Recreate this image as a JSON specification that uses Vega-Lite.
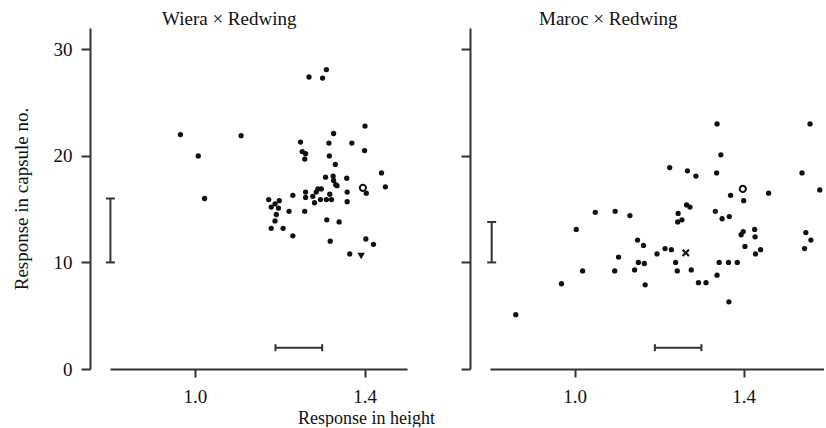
{
  "$schema": "https://vega.github.io/schema/vega-lite/v6.json",
  "background": "white",
  "padding": {"left": 12, "top": 10, "right": 0, "bottom": 0},
  "config": {
    "font": "Liberation Serif",
    "view": {"stroke": null},
    "axis": {
      "grid": false,
      "domainColor": "#333",
      "domainWidth": 2,
      "tickColor": "#333",
      "tickWidth": 2,
      "labelFontSize": 19,
      "titleFontSize": 19,
      "labelColor": "#111",
      "titleColor": "#111",
      "titleFontWeight": "normal",
      "labelFont": "Liberation Serif",
      "titleFont": "Liberation Serif"
    },
    "title": {"fontSize": 19, "fontWeight": "normal", "color": "#111", "font": "Liberation Serif"}
  },
  "datasets": {
    "all": [
      {"p": "W", "k": "dot", "x": 0.966, "y": 22.0},
      {"p": "W", "k": "dot", "x": 1.109, "y": 21.9},
      {"p": "W", "k": "dot", "x": 1.008, "y": 20.0},
      {"p": "W", "k": "dot", "x": 1.023, "y": 16.0},
      {"p": "W", "k": "dot", "x": 1.174, "y": 15.9},
      {"p": "W", "k": "dot", "x": 1.199, "y": 15.8},
      {"p": "W", "k": "dot", "x": 1.189, "y": 15.5},
      {"p": "W", "k": "dot", "x": 1.180, "y": 15.2},
      {"p": "W", "k": "dot", "x": 1.197, "y": 15.1},
      {"p": "W", "k": "dot", "x": 1.192, "y": 14.5},
      {"p": "W", "k": "dot", "x": 1.189, "y": 13.9},
      {"p": "W", "k": "dot", "x": 1.180, "y": 13.2},
      {"p": "W", "k": "dot", "x": 1.208, "y": 13.2},
      {"p": "W", "k": "dot", "x": 1.222, "y": 14.8},
      {"p": "W", "k": "dot", "x": 1.310, "y": 28.1},
      {"p": "W", "k": "dot", "x": 1.269, "y": 27.4},
      {"p": "W", "k": "dot", "x": 1.301, "y": 27.3},
      {"p": "W", "k": "dot", "x": 1.401, "y": 22.8},
      {"p": "W", "k": "dot", "x": 1.327, "y": 22.1},
      {"p": "W", "k": "dot", "x": 1.249, "y": 21.3},
      {"p": "W", "k": "dot", "x": 1.316, "y": 21.2},
      {"p": "W", "k": "dot", "x": 1.370, "y": 21.2},
      {"p": "W", "k": "dot", "x": 1.400, "y": 20.5},
      {"p": "W", "k": "dot", "x": 1.253, "y": 20.4},
      {"p": "W", "k": "dot", "x": 1.261, "y": 20.2},
      {"p": "W", "k": "dot", "x": 1.259, "y": 19.7},
      {"p": "W", "k": "dot", "x": 1.317, "y": 20.0},
      {"p": "W", "k": "dot", "x": 1.331, "y": 19.2},
      {"p": "W", "k": "dot", "x": 1.440, "y": 18.4},
      {"p": "W", "k": "dot", "x": 1.308, "y": 18.0},
      {"p": "W", "k": "dot", "x": 1.326, "y": 18.1},
      {"p": "W", "k": "dot", "x": 1.327, "y": 17.7},
      {"p": "W", "k": "dot", "x": 1.332, "y": 17.3},
      {"p": "W", "k": "dot", "x": 1.335, "y": 17.2},
      {"p": "W", "k": "dot", "x": 1.358, "y": 17.9},
      {"p": "W", "k": "dot", "x": 1.449, "y": 17.1},
      {"p": "W", "k": "dot", "x": 1.404, "y": 16.5},
      {"p": "W", "k": "dot", "x": 1.290, "y": 16.9},
      {"p": "W", "k": "dot", "x": 1.298, "y": 16.9},
      {"p": "W", "k": "dot", "x": 1.286, "y": 16.6},
      {"p": "W", "k": "dot", "x": 1.261, "y": 16.6},
      {"p": "W", "k": "dot", "x": 1.231, "y": 16.3},
      {"p": "W", "k": "dot", "x": 1.261, "y": 16.1},
      {"p": "W", "k": "dot", "x": 1.278, "y": 16.2},
      {"p": "W", "k": "dot", "x": 1.296, "y": 15.9},
      {"p": "W", "k": "dot", "x": 1.310, "y": 15.9},
      {"p": "W", "k": "dot", "x": 1.322, "y": 15.9},
      {"p": "W", "k": "dot", "x": 1.318, "y": 16.4},
      {"p": "W", "k": "dot", "x": 1.282, "y": 15.6},
      {"p": "W", "k": "dot", "x": 1.359, "y": 16.6},
      {"p": "W", "k": "dot", "x": 1.359, "y": 15.7},
      {"p": "W", "k": "dot", "x": 1.259, "y": 14.8},
      {"p": "W", "k": "dot", "x": 1.311, "y": 14.0},
      {"p": "W", "k": "dot", "x": 1.340, "y": 13.8},
      {"p": "W", "k": "dot", "x": 1.231, "y": 12.5},
      {"p": "W", "k": "dot", "x": 1.319, "y": 12.0},
      {"p": "W", "k": "dot", "x": 1.403, "y": 12.2},
      {"p": "W", "k": "dot", "x": 1.421, "y": 11.7},
      {"p": "W", "k": "dot", "x": 1.365, "y": 10.8},
      {"p": "W", "k": "o", "x": 1.396, "y": 17.0},
      {"p": "W", "k": "v", "x": 1.392, "y": 10.6},
      {"p": "W", "k": "vbar", "x": 0.801, "y": 10, "y2": 16},
      {"p": "W", "k": "vcap", "x": 0.801, "y": 10},
      {"p": "W", "k": "vcap", "x": 0.801, "y": 16},
      {"p": "W", "k": "hbar", "x": 1.19, "x2": 1.30, "y": 2},
      {"p": "W", "k": "hcap", "x": 1.19, "y": 2},
      {"p": "W", "k": "hcap", "x": 1.30, "y": 2},

      {"p": "M", "k": "dot", "x": 0.861, "y": 5.1},
      {"p": "M", "k": "dot", "x": 0.969, "y": 8.0},
      {"p": "M", "k": "dot", "x": 1.019, "y": 9.2},
      {"p": "M", "k": "dot", "x": 1.004, "y": 13.1},
      {"p": "M", "k": "dot", "x": 1.049, "y": 14.7},
      {"p": "M", "k": "dot", "x": 1.096, "y": 14.8},
      {"p": "M", "k": "dot", "x": 1.131, "y": 14.4},
      {"p": "M", "k": "dot", "x": 1.104, "y": 10.5},
      {"p": "M", "k": "dot", "x": 1.095, "y": 9.2},
      {"p": "M", "k": "dot", "x": 1.149, "y": 12.1},
      {"p": "M", "k": "dot", "x": 1.163, "y": 11.6},
      {"p": "M", "k": "dot", "x": 1.151, "y": 10.0},
      {"p": "M", "k": "dot", "x": 1.165, "y": 9.9},
      {"p": "M", "k": "dot", "x": 1.142, "y": 9.3},
      {"p": "M", "k": "dot", "x": 1.167, "y": 7.9},
      {"p": "M", "k": "dot", "x": 1.195, "y": 10.8},
      {"p": "M", "k": "dot", "x": 1.337, "y": 23.0},
      {"p": "M", "k": "dot", "x": 1.557, "y": 23.0},
      {"p": "M", "k": "dot", "x": 1.346, "y": 20.1},
      {"p": "M", "k": "dot", "x": 1.225, "y": 18.9},
      {"p": "M", "k": "dot", "x": 1.267, "y": 18.6},
      {"p": "M", "k": "dot", "x": 1.287, "y": 18.1},
      {"p": "M", "k": "dot", "x": 1.336, "y": 18.4},
      {"p": "M", "k": "dot", "x": 1.538, "y": 18.4},
      {"p": "M", "k": "dot", "x": 1.580, "y": 16.8},
      {"p": "M", "k": "dot", "x": 1.459, "y": 16.5},
      {"p": "M", "k": "dot", "x": 1.369, "y": 16.3},
      {"p": "M", "k": "dot", "x": 1.400, "y": 15.8},
      {"p": "M", "k": "dot", "x": 1.265, "y": 15.4},
      {"p": "M", "k": "dot", "x": 1.273, "y": 15.2},
      {"p": "M", "k": "dot", "x": 1.245, "y": 14.6},
      {"p": "M", "k": "dot", "x": 1.244, "y": 13.8},
      {"p": "M", "k": "dot", "x": 1.254, "y": 14.0},
      {"p": "M", "k": "dot", "x": 1.333, "y": 14.8},
      {"p": "M", "k": "dot", "x": 1.349, "y": 14.1},
      {"p": "M", "k": "dot", "x": 1.366, "y": 14.3},
      {"p": "M", "k": "dot", "x": 1.426, "y": 13.1},
      {"p": "M", "k": "dot", "x": 1.427, "y": 12.4},
      {"p": "M", "k": "dot", "x": 1.394, "y": 12.6},
      {"p": "M", "k": "dot", "x": 1.399, "y": 12.9},
      {"p": "M", "k": "dot", "x": 1.403, "y": 11.5},
      {"p": "M", "k": "dot", "x": 1.440, "y": 11.2},
      {"p": "M", "k": "dot", "x": 1.428, "y": 10.8},
      {"p": "M", "k": "dot", "x": 1.547, "y": 12.8},
      {"p": "M", "k": "dot", "x": 1.559, "y": 12.1},
      {"p": "M", "k": "dot", "x": 1.544, "y": 11.3},
      {"p": "M", "k": "dot", "x": 1.214, "y": 11.3},
      {"p": "M", "k": "dot", "x": 1.229, "y": 11.2},
      {"p": "M", "k": "dot", "x": 1.239, "y": 10.0},
      {"p": "M", "k": "dot", "x": 1.243, "y": 9.2},
      {"p": "M", "k": "dot", "x": 1.276, "y": 9.3},
      {"p": "M", "k": "dot", "x": 1.293, "y": 8.1},
      {"p": "M", "k": "dot", "x": 1.311, "y": 8.1},
      {"p": "M", "k": "dot", "x": 1.337, "y": 8.8},
      {"p": "M", "k": "dot", "x": 1.342, "y": 10.0},
      {"p": "M", "k": "dot", "x": 1.364, "y": 10.0},
      {"p": "M", "k": "dot", "x": 1.385, "y": 10.0},
      {"p": "M", "k": "dot", "x": 1.365, "y": 6.3},
      {"p": "M", "k": "o", "x": 1.398, "y": 16.9},
      {"p": "M", "k": "x", "x": 1.263, "y": 10.9},
      {"p": "M", "k": "vbar", "x": 0.804, "y": 10, "y2": 13.8},
      {"p": "M", "k": "vcap", "x": 0.804, "y": 10},
      {"p": "M", "k": "vcap", "x": 0.804, "y": 13.8},
      {"p": "M", "k": "hbar", "x": 1.19, "x2": 1.30, "y": 2},
      {"p": "M", "k": "hcap", "x": 1.19, "y": 2},
      {"p": "M", "k": "hcap", "x": 1.30, "y": 2}
    ]
  },
  "spacing": 25,
  "hconcat": [
    {
      "width": 297,
      "height": 341,
      "title": {"text": "Wiera × Redwing", "anchor": "start", "frame": "group", "dx": 52, "offset": -16, "baseline": "alphabetic"},
      "data": {"name": "all"},
      "transform": [{"filter": "datum.p === 'W'"}],
      "encoding": {
        "x": {"field": "x", "type": "quantitative",
          "scale": {"domain": [0.8, 1.5], "nice": false, "zero": false},
          "axis": {"values": [1.0, 1.4], "format": ".1f", "tickSize": 8, "labelPadding": 10, "title": "Response in height", "titleX": 256, "titlePadding": 3, "titleFontSize": 18}},
        "y": {"field": "y", "type": "quantitative",
          "scale": {"domain": [0, 32], "nice": false, "zero": false},
          "axis": {"values": [0, 10, 20, 30], "offset": 20, "tickSize": 9, "labelPadding": 9, "title": "Response in capsule no.", "titlePadding": 22}}
      },
      "layer": [
        {"transform": [{"filter": "datum.k === 'dot'"}], "mark": {"type": "point", "filled": true, "shape": "circle", "size": 28, "color": "#111", "opacity": 1}},
        {"transform": [{"filter": "datum.k === 'o'"}], "mark": {"type": "point", "filled": false, "shape": "circle", "size": 38, "color": "#111", "strokeWidth": 2, "opacity": 1}},
        {"transform": [{"filter": "datum.k === 'v'"}], "mark": {"type": "point", "filled": true, "shape": "triangle-down", "size": 55, "color": "#111", "opacity": 1}},
        {"transform": [{"filter": "datum.k === 'vbar'"}], "mark": {"type": "rule", "color": "#333", "strokeWidth": 2}, "encoding": {"y2": {"field": "y2"}}},
        {"transform": [{"filter": "datum.k === 'hbar'"}], "mark": {"type": "rule", "color": "#333", "strokeWidth": 2}, "encoding": {"x2": {"field": "x2"}}},
        {"transform": [{"filter": "datum.k === 'vcap'"}], "mark": {"type": "tick", "orient": "horizontal", "size": 9, "thickness": 2, "color": "#333", "opacity": 1}},
        {"transform": [{"filter": "datum.k === 'hcap'"}], "mark": {"type": "tick", "orient": "vertical", "size": 7, "thickness": 2, "color": "#333", "opacity": 1}}
      ]
    },
    {
      "width": 334,
      "height": 341,
      "title": {"text": "Maroc × Redwing", "anchor": "start", "frame": "group", "dx": 49, "offset": -16, "baseline": "alphabetic"},
      "data": {"name": "all"},
      "transform": [{"filter": "datum.p === 'M'"}],
      "encoding": {
        "x": {"field": "x", "type": "quantitative",
          "scale": {"domain": [0.8, 1.59], "nice": false, "zero": false},
          "axis": {"values": [1.0, 1.4], "format": ".1f", "tickSize": 8, "labelPadding": 10, "title": null}},
        "y": {"field": "y", "type": "quantitative",
          "scale": {"domain": [0, 32], "nice": false, "zero": false},
          "axis": {"values": [0, 10, 20, 30], "offset": 20, "tickSize": 9, "labels": false, "title": null}}
      },
      "layer": [
        {"transform": [{"filter": "datum.k === 'dot'"}], "mark": {"type": "point", "filled": true, "shape": "circle", "size": 28, "color": "#111", "opacity": 1}},
        {"transform": [{"filter": "datum.k === 'o'"}], "mark": {"type": "point", "filled": false, "shape": "circle", "size": 38, "color": "#111", "strokeWidth": 2, "opacity": 1}},
        {"transform": [{"filter": "datum.k === 'x'"}], "mark": {"type": "point", "filled": false, "shape": "M-1,-1L1,1M1,-1L-1,1", "size": 40, "color": "#111", "strokeWidth": 2, "opacity": 1}},
        {"transform": [{"filter": "datum.k === 'vbar'"}], "mark": {"type": "rule", "color": "#333", "strokeWidth": 2}, "encoding": {"y2": {"field": "y2"}}},
        {"transform": [{"filter": "datum.k === 'hbar'"}], "mark": {"type": "rule", "color": "#333", "strokeWidth": 2}, "encoding": {"x2": {"field": "x2"}}},
        {"transform": [{"filter": "datum.k === 'vcap'"}], "mark": {"type": "tick", "orient": "horizontal", "size": 9, "thickness": 2, "color": "#333", "opacity": 1}},
        {"transform": [{"filter": "datum.k === 'hcap'"}], "mark": {"type": "tick", "orient": "vertical", "size": 7, "thickness": 2, "color": "#333", "opacity": 1}}
      ]
    }
  ]
}
